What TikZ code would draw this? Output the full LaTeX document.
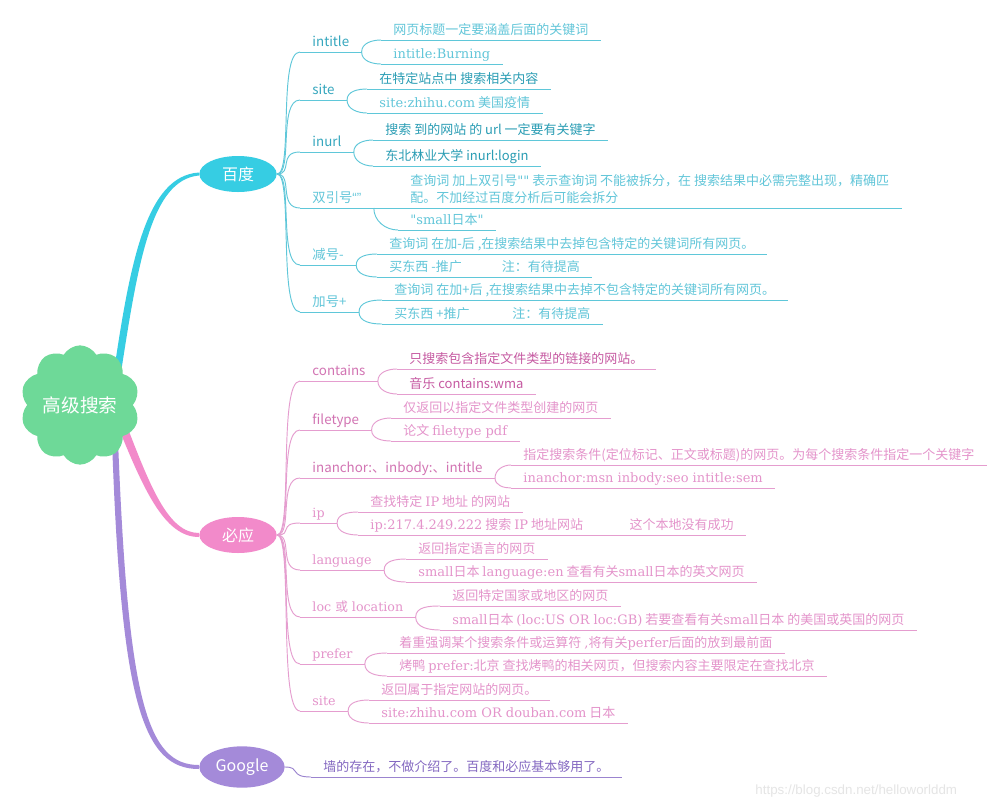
\documentclass[tikz,border=0pt]{standalone}
\usepackage{fontspec}
\setmainfont{Noto Sans CJK SC}
\newfontfamily\srf{DejaVu Serif}
\newfontfamily\wmfont{Liberation Sans}
\usetikzlibrary{shapes.geometric,shapes.symbols,calc,backgrounds}

\definecolor{rootc}{HTML}{6ED998}
\definecolor{bdmain}{HTML}{36CDE3}
\definecolor{bdline}{HTML}{5FC7D9}
\definecolor{bdlab}{HTML}{36A7BE}
\definecolor{bddark}{HTML}{2A9DB4}
\definecolor{bdlight}{HTML}{62C6D9}
\definecolor{bymain}{HTML}{F28ACA}
\definecolor{byline}{HTML}{E59DCF}
\definecolor{bylab}{HTML}{D274B3}
\definecolor{bydark}{HTML}{C65AA2}
\definecolor{bylight}{HTML}{E494CB}
\definecolor{ggmain}{HTML}{A48AD9}
\definecolor{ggline}{HTML}{9B84CF}
\definecolor{ggtext}{HTML}{8468C1}

\tikzset{
  ul/.style={append after command={(\tikzlastnode.south west) edge[draw=#1, line width=0.7pt] (\tikzlastnode.south east)}},
  lab/.style={anchor=south west, inner xsep=9pt, inner ysep=1pt, text height=7.5pt, text depth=2.5pt, font=\fontsize{10}{12}\selectfont},
  leaf/.style={lab, font=\fontsize{9.75}{12}\selectfont},
  srfont/.style={font=\srf\fontsize{9.5}{12}\selectfont},
  blob/.style={ellipse, inner sep=0, minimum width=58pt, minimum height=27pt, text=white, font=\fontsize{12}{14}\selectfont},
  conn/.style={to path={.. controls +(16,0) and +(-22,0) .. (\tikztotarget)}},
  splitup/.style={out=90, in=180},
  splitdn/.style={out=-90, in=180}
}

\begin{document}
\begin{tikzpicture}[x=0.75pt, y=-0.75pt, line width=0.7pt]
    \useasboundingbox (0,0) rectangle (1004,808);

    % Centre and main topics
    \node[cloud, cloud puffs=10, cloud puff arc=120, aspect=1, fill=rootc, minimum width=88pt, minimum height=88pt, inner sep=0, text=white, font=\fontsize{14}{16}\selectfont] (root) at (80,405) {高级搜索};
    \node[blob, fill=bdmain] (bd) at (238,174) {百度};
    \node[blob, fill=bymain] (by) at (238,535) {必应};
    \node[blob, fill=ggmain, minimum width=64pt, minimum height=31pt] (gg) at (242,767) {Google};

    % Main branches (tapered)
    \begin{scope}[on background layer]
    \fill[white] (0,0) rectangle (1004,808);
    \fill[bdmain] ($(root.center)+(33,-27)$) .. controls (130,262) and (146,176) .. ($(bd.west)+(0,-1.5)$) -- ($(bd.west)+(0,1.5)$) .. controls (151,180) and (138,262) .. ($(root.center)+(40,-26)$) -- cycle;
    \fill[bymain] ($(root.center)+(37,19)$) .. controls (143,488) and (164,537) .. ($(by.west)+(0,2)$) -- ($(by.west)+(0,-2)$) .. controls (168,533) and (150,486) .. ($(root.center)+(45,16)$) -- cycle;
    \fill[ggmain] ($(root.center)+(32,35)$) .. controls (121,700) and (142,769) .. ($(gg.west)+(0,2)$) -- ($(gg.west)+(0,-2)$) .. controls (147,765) and (128,700) .. ($(root.center)+(38,35)$) -- cycle;
    \end{scope}

    % Baidu
    \node[lab, text=bdlab, ul=bdline] (bd1) at (300,52) {intitle};
    \node[lab, text=bdlab, ul=bdline] (bd2) at (300,100) {site};
    \node[lab, text=bdlab, ul=bdline] (bd3) at (300,152) {inurl};
    \node[lab, text=bdlight, ul=bdline] (bd4) at (300,208) {双引号{\wmfont “”}};
    \node[lab, text=bdlight, ul=bdline] (bd5) at (300,265) {减号-};
    \node[lab, text=bdlight, ul=bdline] (bd6) at (300,312) {加号+};

    \node[leaf, text=bdlight, ul=bdline] (bd1a) at (381,40) {网页标题一定要涵盖后面的关键词};
    \node[leaf, text=bdlight, ul=bdline] (bd1b) at (381,64) {\srf intitle:Burning};
    \node[leaf, text=bddark, ul=bdline] (bd2a) at (367,89) {在特定站点中 搜索相关内容};
    \node[leaf, text=bdlight, ul=bdline] (bd2b) at (367,113) {{\srf site:zhihu.com} 美国疫情};
    \node[leaf, text=bddark, ul=bdline] (bd3a) at (373,140) {搜索 到的网站 的 url 一定要有关键字};
    \node[leaf, text=bddark, ul=bdline] (bd3b) at (373,166) {东北林业大学 inurl:login};
    \node[leaf, text=bdlight, ul=bdline, align=left, font=\fontsize{9.75}{12.75}\selectfont] (bd4a) at (398,208) {查询词 加上双引号{\srf ""} 表示查询词 不能被拆分，在 搜索结果中必需完整出现，精确匹\\配。不加经过百度分析后可能会拆分};
    \node[leaf, text=bdlight, ul=bdline] (bd4b) at (398,230) {{\srf "small}日本{\srf "}};
    \node[leaf, text=bdlight, ul=bdline] (bd5a) at (377,254) {查询词 在加-后 ,在搜索结果中去掉包含特定的关键词所有网页。};
    \node[leaf, text=bdlight, ul=bdline] (bd5b) at (377,277) {买东西 -推广\hspace{30pt}注：有待提高};
    \node[leaf, text=bdlight, ul=bdline] (bd6a) at (382,300) {查询词 在加+后 ,在搜索结果中去掉不包含特定的关键词所有网页。};
    \node[leaf, text=bdlight, ul=bdline] (bd6b) at (382,324) {买东西 +推广\hspace{32pt}注：有待提高};

    % Bing
    \node[lab, text=bylab, ul=byline] (by1) at (300,381) {contains};
    \node[lab, text=bylab, ul=byline] (by2) at (300,430) {filetype};
    \node[lab, text=bylab, ul=byline] (by3) at (300,478) {inanchor:、inbody:、intitle};
    \node[lab, srfont, text=bylight, ul=byline] (by4) at (300,523) {ip};
    \node[lab, srfont, text=bylight, ul=byline] (by5) at (300,570) {language};
    \node[lab, srfont, text=bylight, ul=byline] (by6) at (300,617) {loc {\rmfamily 或} location};
    \node[lab, srfont, text=bylight, ul=byline] (by7) at (300,664) {prefer};
    \node[lab, srfont, text=bylight, ul=byline] (by8) at (300,711) {site};

    \node[leaf, text=bydark, ul=byline] (by1a) at (397,369) {只搜索包含指定文件类型的链接的网站。};
    \node[leaf, text=bydark, ul=byline] (by1b) at (397,394) {音乐 contains:wma};
    \node[leaf, text=bylight, ul=byline] (by2a) at (391,418) {仅返回以指定文件类型创建的网页};
    \node[leaf, text=bylight, ul=byline] (by2b) at (391,441) {论文 {\srf filetype pdf}};
    \node[leaf, text=bylight, ul=byline] (by3a) at (511,465) {指定搜索条件(定位标记、正文或标题)的网页。为每个搜索条件指定一个关键字};
    \node[leaf, text=bylight, ul=byline] (by3b) at (511,488) {\srf inanchor:msn inbody:seo intitle:sem};
    \node[leaf, text=bylight, ul=byline] (by4a) at (358,512) {查找特定 {\srf IP} 地址 的网站};
    \node[leaf, text=bylight, ul=byline] (by4b) at (358,535) {{\srf ip:217.4.249.222} 搜索 {\srf IP} 地址网站\hspace{35pt}这个本地没有成功};
    \node[leaf, text=bylight, ul=byline] (by5a) at (406,559) {返回指定语言的网页};
    \node[leaf, text=bylight, ul=byline] (by5b) at (406,582) {{\srf small}日本 {\srf language:en} 查看有关{\srf small}日本的英文网页};
    \node[leaf, text=bylight, ul=byline] (by6a) at (440,606) {返回特定国家或地区的网页};
    \node[leaf, text=bylight, ul=byline] (by6b) at (440,630) {{\srf small}日本 {\srf (loc:US OR loc:GB)} 若要查看有关{\srf small}日本 的美国或英国的网页};
    \node[leaf, text=bylight, ul=byline] (by7a) at (387,653) {着重强调某个搜索条件或运算符 {\srf ,}将有关{\srf perfer}后面的放到最前面};
    \node[leaf, text=bylight, ul=byline] (by7b) at (387,676) {烤鸭 {\srf prefer:}北京 查找烤鸭的相关网页，但搜索内容主要限定在查找北京};
    \node[leaf, text=bylight, ul=byline] (by8a) at (369,700) {返回属于指定网站的网页。};
    \node[leaf, text=bylight, ul=byline] (by8b) at (369,723) {{\srf site:zhihu.com OR douban.com} 日本};

    % Google
    \node[leaf, text=ggtext, ul=ggline] (gg1) at (311,777) {墙的存在，不做介绍了。百度和必应基本够用了。};

    % Watermark
    \node[anchor=west, inner sep=0, text=black!10, font=\wmfont\fontsize{10}{12}\selectfont] (mark) at (755,791) {https://blog.csdn.net/helloworlddm};

    % Topic to keyword edges
    \draw[bdline] (bd.east) to[conn] (bd1.south west);
    \draw[bdline] (bd.east) to[conn] (bd2.south west);
    \draw[bdline] (bd.east) to[conn] (bd3.south west);
    \draw[bdline] (bd.east) to[conn] (bd4.south west);
    \draw[bdline] (bd.east) to[conn] (bd5.south west);
    \draw[bdline] (bd.east) to[conn] (bd6.south west);
    \draw[byline] (by.east) to[conn] (by1.south west);
    \draw[byline] (by.east) to[conn] (by2.south west);
    \draw[byline] (by.east) to[conn] (by3.south west);
    \draw[byline] (by.east) to[conn] (by4.south west);
    \draw[byline] (by.east) to[conn] (by5.south west);
    \draw[byline] (by.east) to[conn] (by6.south west);
    \draw[byline] (by.east) to[conn] (by7.south west);
    \draw[byline] (by.east) to[conn] (by8.south west);
    \draw[ggline] (gg.east) to[conn] (gg1.south west);

    % Keyword to note edges
    \draw[bdline] (bd1.south east) to[splitup] (bd1a.south west);
    \draw[bdline] (bd1.south east) to[splitdn] (bd1b.south west);
    \draw[bdline] (bd2.south east) to[splitup] (bd2a.south west);
    \draw[bdline] (bd2.south east) to[splitdn] (bd2b.south west);
    \draw[bdline] (bd3.south east) to[splitup] (bd3a.south west);
    \draw[bdline] (bd3.south east) to[splitdn] (bd3b.south west);
    \draw[bdline] (bd4.south east) -- (bd4a.south west);
    \draw[bdline] (bd4.south east) to[splitdn] (bd4b.south west);
    \draw[bdline] (bd5.south east) to[splitup] (bd5a.south west);
    \draw[bdline] (bd5.south east) to[splitdn] (bd5b.south west);
    \draw[bdline] (bd6.south east) to[splitup] (bd6a.south west);
    \draw[bdline] (bd6.south east) to[splitdn] (bd6b.south west);

    \draw[byline] (by1.south east) to[splitup] (by1a.south west);
    \draw[byline] (by1.south east) to[splitdn] (by1b.south west);
    \draw[byline] (by2.south east) to[splitup] (by2a.south west);
    \draw[byline] (by2.south east) to[splitdn] (by2b.south west);
    \draw[byline] (by3.south east) to[splitup] (by3a.south west);
    \draw[byline] (by3.south east) to[splitdn] (by3b.south west);
    \draw[byline] (by4.south east) to[splitup] (by4a.south west);
    \draw[byline] (by4.south east) to[splitdn] (by4b.south west);
    \draw[byline] (by5.south east) to[splitup] (by5a.south west);
    \draw[byline] (by5.south east) to[splitdn] (by5b.south west);
    \draw[byline] (by6.south east) to[splitup] (by6a.south west);
    \draw[byline] (by6.south east) to[splitdn] (by6b.south west);
    \draw[byline] (by7.south east) to[splitup] (by7a.south west);
    \draw[byline] (by7.south east) to[splitdn] (by7b.south west);
    \draw[byline] (by8.south east) to[splitup] (by8a.south west);
    \draw[byline] (by8.south east) to[splitdn] (by8b.south west);

\end{tikzpicture}
\end{document}
